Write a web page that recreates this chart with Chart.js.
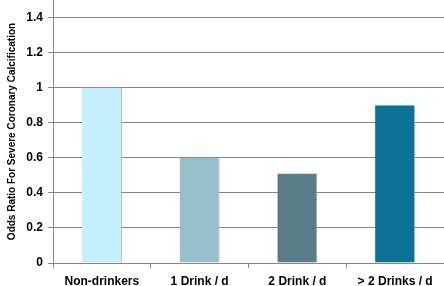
<!DOCTYPE html>
<html>
<head>
<meta charset="utf-8">
<title>Odds Ratio For Severe Coronary Calcification</title>
<script src="https://cdn.jsdelivr.net/npm/chart.js@4/dist/chart.umd.min.js"></script>
<style>
    html, body { margin: 0; padding: 0; background: #ffffff; }
    #chartBox { width: 444px; height: 286px; }
</style>
</head>
<body>
<div id="chartBox"><canvas id="oddsChart" width="444" height="286"></canvas></div>
<script>
// Chart data
const categories = ['Non-drinkers', '1 Drink / d', '2 Drink / d', '> 2 Drinks / d'];
const oddsRatios = [1.0, 0.6, 0.51, 0.9];
const barColors = ['#c4effd', '#99bfcd', '#5a7c89', '#0b7396'];
const yTickLabels = ['0', '0.2', '0.4', '0.6', '0.8', '1', '1.2', '1.4'];
const yAxisTitle = 'Odds Ratio For Severe Coronary Calcification';

// Initialize odds ratio chart
function initializeOddsChart() {
    const ctx = document.getElementById('oddsChart');
    if (!ctx) return;

    const lineColor = '#868686';

    new Chart(ctx, {
        type: 'bar',
        data: {
            labels: categories,
            datasets: [{
                data: oddsRatios,
                backgroundColor: barColors,
                borderColor: '#b4b4b4',
                borderWidth: { top: 0, left: 0, bottom: 0, right: 1 },
                borderSkipped: false,
                categoryPercentage: 1,
                barPercentage: 0.41
            }]
        },
        options: {
            responsive: false,
            animation: false,
            layout: { padding: 0 },
            plugins: {
                legend: { display: false },
                tooltip: { enabled: false }
            },
            scales: {
                x: {
                    offset: true,
                    grid: {
                        offset: true,
                        drawOnChartArea: false,
                        drawTicks: true,
                        tickLength: 5,
                        color: lineColor
                    },
                    border: { color: lineColor, width: 1 },
                    ticks: {
                        color: '#000000',
                        padding: 6,
                        maxRotation: 0,
                        font: { family: 'Liberation Sans, Arial, sans-serif', size: 12, weight: 'bold' }
                    },
                    afterFit: function(scale) {
                        scale.height = 23;
                        scale.paddingLeft = 0;
                        scale.paddingRight = 0;
                    }
                },
                y: {
                    min: 0,
                    max: 1.5,
                    grid: {
                        color: lineColor,
                        lineWidth: 1,
                        tickLength: 5
                    },
                    border: { color: lineColor, width: 1 },
                    ticks: {
                        stepSize: 0.2,
                        color: '#000000',
                        padding: 5,
                        font: { family: 'Liberation Sans, Arial, sans-serif', size: 12, weight: 'bold' },
                        callback: function(value, index) {
                            return yTickLabels[index];
                        }
                    },
                    title: {
                        display: true,
                        text: yAxisTitle,
                        color: '#000000',
                        padding: { top: 6, bottom: 0 },
                        font: { family: 'Liberation Sans, Arial, sans-serif', size: 10, weight: 'bold' }
                    },
                    // Drop the 1.5 tick that the max adds, keep 0 .. 1.4
                    afterBuildTicks: function(scale) {
                        scale.ticks = scale.ticks.filter(t => t.value <= 1.4 + 1e-9);
                    },
                    afterFit: function(scale) {
                        scale.width = 53;
                        scale.paddingTop = 0;
                        scale.paddingBottom = 0;
                    }
                }
            }
        }
    });
}

// Initialize when the document is ready
document.addEventListener('DOMContentLoaded', initializeOddsChart);
</script>
</body>
</html>
